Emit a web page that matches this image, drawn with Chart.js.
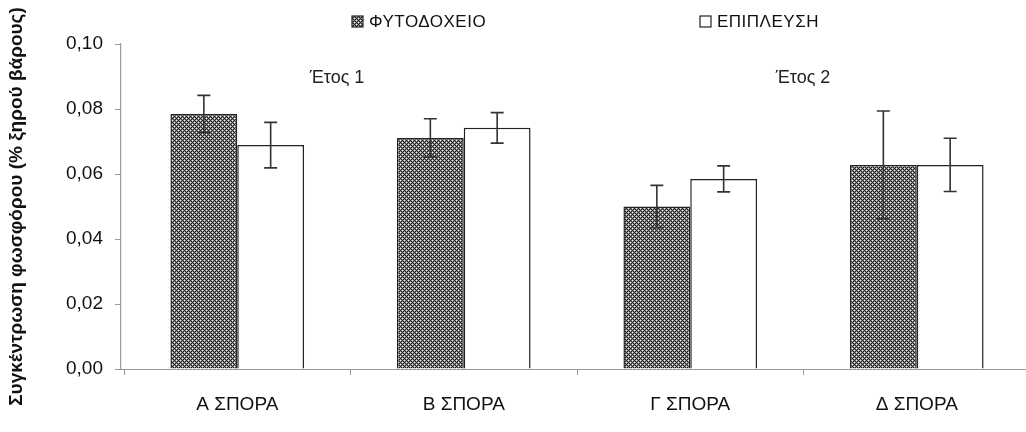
<!DOCTYPE html>
<html>
<head>
<meta charset="utf-8">
<script src="https://cdn.jsdelivr.net/npm/chart.js@4.4.1/dist/chart.umd.min.js"></script>
<style>
  html, body { margin: 0; padding: 0; background: #ffffff; }
  #wrap { width: 1026px; height: 432px; }
</style>
</head>
<body>
<div id="wrap"><canvas id="c" width="1026" height="432"></canvas></div>
<script>
// Sowing dates (categories)
const categories = ['Α ΣΠΟΡΑ', 'Β ΣΠΟΡΑ', 'Γ ΣΠΟΡΑ', 'Δ ΣΠΟΡΑ'];
// Series names
const seriesNames = ['ΦΥΤΟΔΟΧΕΙΟ', 'ΕΠΙΠΛΕΥΣΗ'];
// Phosphorus concentration (% dry weight)
const potValues   = [0.0785, 0.0711, 0.0500, 0.0628];
const floatValues = [0.0689, 0.0742, 0.0585, 0.0628];
// Standard errors
const potErrors   = [0.0057, 0.0059, 0.0065, 0.0166];
const floatErrors = [0.0070, 0.0047, 0.0040, 0.0082];
// Y axis tick labels
const yTickLabels = ['0,00', '0,02', '0,04', '0,06', '0,08', '0,10'];
// Year annotations
const yearLabels = ['Έτος 1', 'Έτος 2'];
const yTitle = 'Συγκέντρωση φωσφόρου (% ξηρού βάρους)';

const FONT = '"Liberation Sans", Arial, sans-serif';

// Cross-hatched fill for the nursery series
function makeHatch() {
  const t = document.createElement('canvas');
  t.width = 4; t.height = 4;
  const g = t.getContext('2d');
  const img = g.createImageData(4, 4);
  const full = [[0,0],[2,2]];
  const half = [[1,0],[0,1],[3,0],[0,3],[1,2],[3,2],[2,1],[2,3]];
  for (let i = 0; i < 16; i++) {
    img.data[i*4] = 35; img.data[i*4+1] = 35; img.data[i*4+2] = 35; img.data[i*4+3] = 255;
  }
  const put = (p, v) => { const k = (p[1]*4 + p[0]) * 4; img.data[k] = v; img.data[k+1] = v; img.data[k+2] = v; };
  full.forEach(p => put(p, 250));
  half.forEach(p => put(p, 135));
  g.putImageData(img, 0, 0);
  return g.createPattern(t, 'repeat');
}

const ctx0 = document.getElementById('c').getContext('2d');
const hatch = makeHatch();

// The category band runs slightly past the right edge of the canvas
const wideBand = {
  id: 'wideBand',
  afterLayout(chart) {
    const x = chart.scales.x;
    x.left = 124;
    x.right = 1030;
    x.width = x.right - x.left;
    x.configure();
  }
};

// Error bars on top of every bar
const errorBars = {
  id: 'errorBars',
  afterDatasetsDraw(chart) {
    const ctx = chart.ctx;
    const y = chart.scales.y;
    ctx.save();
    ctx.strokeStyle = '#333333';
    ctx.lineWidth = 1.6;
    chart.data.datasets.forEach((ds, di) => {
      const meta = chart.getDatasetMeta(di);
      meta.data.forEach((bar, i) => {
        const v = ds.data[i], e = ds.errors[i];
        const yt = y.getPixelForValue(v + e);
        const yb = y.getPixelForValue(v - e);
        const x = bar.x;
        ctx.beginPath();
        ctx.moveTo(x, yt); ctx.lineTo(x, yb);
        ctx.moveTo(x - 6.5, yt); ctx.lineTo(x + 6.5, yt);
        ctx.moveTo(x - 6.5, yb); ctx.lineTo(x + 6.5, yb);
        ctx.stroke();
      });
    });
    // category axis line, joined to the value axis
    const y0 = Math.round(y.getPixelForValue(0)) + 0.5;
    ctx.strokeStyle = '#999999';
    ctx.lineWidth = 1.2;
    ctx.beginPath();
    ctx.moveTo(y.right, y0);
    ctx.lineTo(chart.width, y0);
    ctx.stroke();
    ctx.restore();
  }
};

// Legend and year captions
const captions = {
  id: 'captions',
  afterDraw(chart) {
    const ctx = chart.ctx;
    ctx.save();
    ctx.textBaseline = 'middle';
    ctx.textAlign = 'left';
    ctx.font = '17px ' + FONT;
    ctx.letterSpacing = '0.5px';
    ctx.strokeStyle = '#222'; ctx.lineWidth = 1.2;
    // legend item 1
    ctx.fillStyle = hatch;
    ctx.fillRect(352, 16, 11, 11);
    ctx.strokeRect(352, 16, 11, 11);
    ctx.fillStyle = '#111111';
    ctx.fillText(seriesNames[0], 369, 22);
    // legend item 2
    ctx.fillStyle = '#ffffff';
    ctx.fillRect(700, 16, 11, 11);
    ctx.strokeRect(700, 16, 11, 11);
    ctx.fillStyle = '#111111';
    ctx.fillText(seriesNames[1], 717, 22);
    // year captions
    ctx.letterSpacing = '0px';
    ctx.textAlign = 'center';
    ctx.font = '18px ' + FONT;
    ctx.fillStyle = '#222222';
    ctx.fillText(yearLabels[0], 337, 78);
    ctx.fillText(yearLabels[1], 803, 78);
    ctx.restore();
  }
};

new Chart(ctx0, {
  type: 'bar',
  data: {
    labels: categories,
    datasets: [
      {
        label: seriesNames[0],
        data: potValues,
        errors: potErrors,
        backgroundColor: hatch,
        borderColor: '#222222',
        borderWidth: 1.5,
        categoryPercentage: 0.59,
        barPercentage: 1.0
      },
      {
        label: seriesNames[1],
        data: floatValues,
        errors: floatErrors,
        backgroundColor: '#ffffff',
        borderColor: '#222222',
        borderWidth: 1.5,
        categoryPercentage: 0.59,
        barPercentage: 1.0
      }
    ]
  },
  options: {
    responsive: false,
    animation: false,
    events: [],
    layout: { padding: { top: 44, right: 0, bottom: 0, left: 0 } },
    plugins: {
      legend: { display: false },
      tooltip: { enabled: false }
    },
    scales: {
      x: {
        afterFit(scale) { scale.height = 63; },
        grid: { display: true, drawOnChartArea: false, tickLength: 6, color: '#999999', offset: true },
        border: { display: false },
        ticks: { color: '#111111', font: { family: FONT, size: 19 }, padding: 18 }
      },
      y: {
        min: 0,
        max: 0.10,
        afterFit(scale) { scale.width = 121; },
        grid: { display: true, drawOnChartArea: false, tickLength: 6, color: '#999999' },
        border: { color: '#999999', width: 1.2 },
        ticks: {
          stepSize: 0.02,
          color: '#111111',
          font: { family: FONT, size: 19 },
          padding: 12,
          callback: (v, i) => yTickLabels[i]
        },
        title: {
          display: true,
          text: yTitle,
          color: '#111111',
          font: { family: FONT, size: 19, weight: 'bold' },
          padding: { top: 5, bottom: 0 }
        }
      }
    }
  },
  plugins: [wideBand, errorBars, captions]
});
</script>
</body>
</html>
